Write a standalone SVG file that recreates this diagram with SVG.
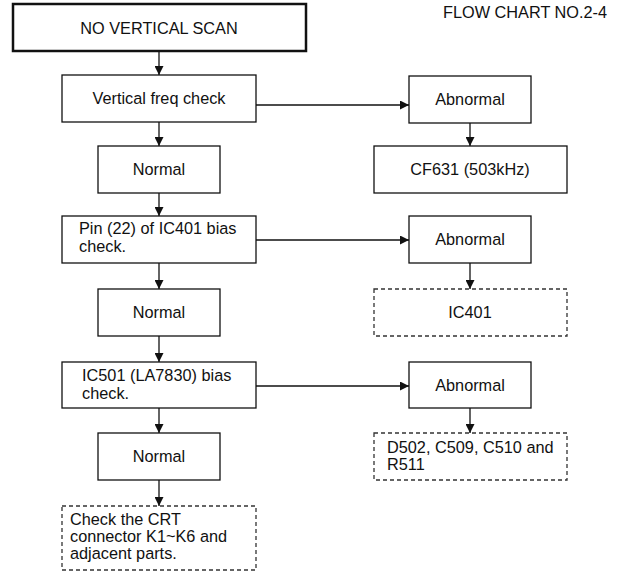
<svg xmlns="http://www.w3.org/2000/svg" width="625" height="573" viewBox="0 0 625 573">
<style>
text{font-family:"Liberation Sans",Arial,sans-serif;font-size:16.3px;fill:#111}
.c{text-anchor:middle}
.box{fill:#fff;stroke:#111;stroke-width:1.3}
.dash{fill:#fff;stroke:#333;stroke-width:1.3;stroke-dasharray:4 3}
.ln{fill:none;stroke:#111;stroke-width:1.3}
</style>
<defs>
<marker id="ah" viewBox="0 0 10 10" refX="10" refY="5" markerWidth="9" markerHeight="9" markerUnits="userSpaceOnUse" orient="auto">
<path d="M0,0 L10,5 L0,10 z" fill="#111"/>
</marker>
</defs>
<rect width="625" height="573" fill="#fff"/>
<text x="443" y="18">FLOW CHART NO.2-4</text>
<g id="connectors">
<line class="ln" x1="159" y1="51" x2="159" y2="75" marker-end="url(#ah)"/>
<line class="ln" x1="159" y1="122" x2="159" y2="146" marker-end="url(#ah)"/>
<line class="ln" x1="159" y1="193" x2="159" y2="216" marker-end="url(#ah)"/>
<line class="ln" x1="159" y1="263" x2="159" y2="289" marker-end="url(#ah)"/>
<line class="ln" x1="159" y1="336" x2="159" y2="362" marker-end="url(#ah)"/>
<line class="ln" x1="159" y1="408" x2="159" y2="433" marker-end="url(#ah)"/>
<line class="ln" x1="159" y1="480" x2="159" y2="506" marker-end="url(#ah)"/>
<line class="ln" x1="256" y1="105" x2="409" y2="105" marker-end="url(#ah)"/>
<line class="ln" x1="256" y1="240" x2="409" y2="240" marker-end="url(#ah)"/>
<line class="ln" x1="256" y1="386" x2="409" y2="386" marker-end="url(#ah)"/>
<line class="ln" x1="470" y1="123" x2="470" y2="146" marker-end="url(#ah)"/>
<line class="ln" x1="470" y1="263" x2="470" y2="289" marker-end="url(#ah)"/>
<line class="ln" x1="470" y1="408" x2="470" y2="433" marker-end="url(#ah)"/>
</g>
<g id="start">
<rect x="13" y="4" width="293" height="47" fill="#fff" stroke="#111" stroke-width="2.5"/>
<text class="c" x="159" y="34">NO VERTICAL SCAN</text>
</g>
<g id="vfreq">
<rect class="box" x="62" y="75" width="194" height="47"/>
<text class="c" x="159" y="104">Vertical freq check</text>
</g>
<g id="normal1">
<rect class="box" x="98" y="146" width="122" height="47"/>
<text class="c" x="159" y="175">Normal</text>
</g>
<g id="abnormal1">
<rect class="box" x="409" y="76" width="122" height="47"/>
<text class="c" x="470" y="105">Abnormal</text>
</g>
<g id="cf631">
<rect class="box" x="374" y="146" width="193" height="47"/>
<text class="c" x="470" y="175">CF631 (503kHz)</text>
</g>
<g id="pin22">
<rect class="box" x="62" y="216" width="194" height="47"/>
<text x="79" y="234">Pin (22) of IC401 bias</text>
<text x="79" y="252">check.</text>
</g>
<g id="abnormal2">
<rect class="box" x="409" y="216" width="122" height="47"/>
<text class="c" x="470" y="245">Abnormal</text>
</g>
<g id="normal2">
<rect class="box" x="98" y="289" width="122" height="47"/>
<text class="c" x="159" y="318">Normal</text>
</g>
<g id="ic401">
<rect class="dash" x="374" y="289" width="193" height="47"/>
<text class="c" x="470" y="318">IC401</text>
</g>
<g id="ic501">
<rect class="box" x="62" y="362" width="194" height="46"/>
<text x="82" y="381">IC501 (LA7830) bias</text>
<text x="82" y="399">check.</text>
</g>
<g id="abnormal3">
<rect class="box" x="409" y="362" width="122" height="46"/>
<text class="c" x="470" y="391">Abnormal</text>
</g>
<g id="normal3">
<rect class="box" x="98" y="433" width="122" height="47"/>
<text class="c" x="159" y="462">Normal</text>
</g>
<g id="d502">
<rect class="dash" x="374" y="433" width="193" height="47"/>
<text x="387" y="453">D502, C509, C510 and</text>
<text x="387" y="470">R511</text>
</g>
<g id="crt">
<rect class="dash" x="62" y="506" width="194" height="64"/>
<text x="70" y="525">Check the CRT</text>
<text x="70" y="542">connector K1~K6 and</text>
<text x="70" y="559">adjacent parts.</text>
</g>
</svg>
